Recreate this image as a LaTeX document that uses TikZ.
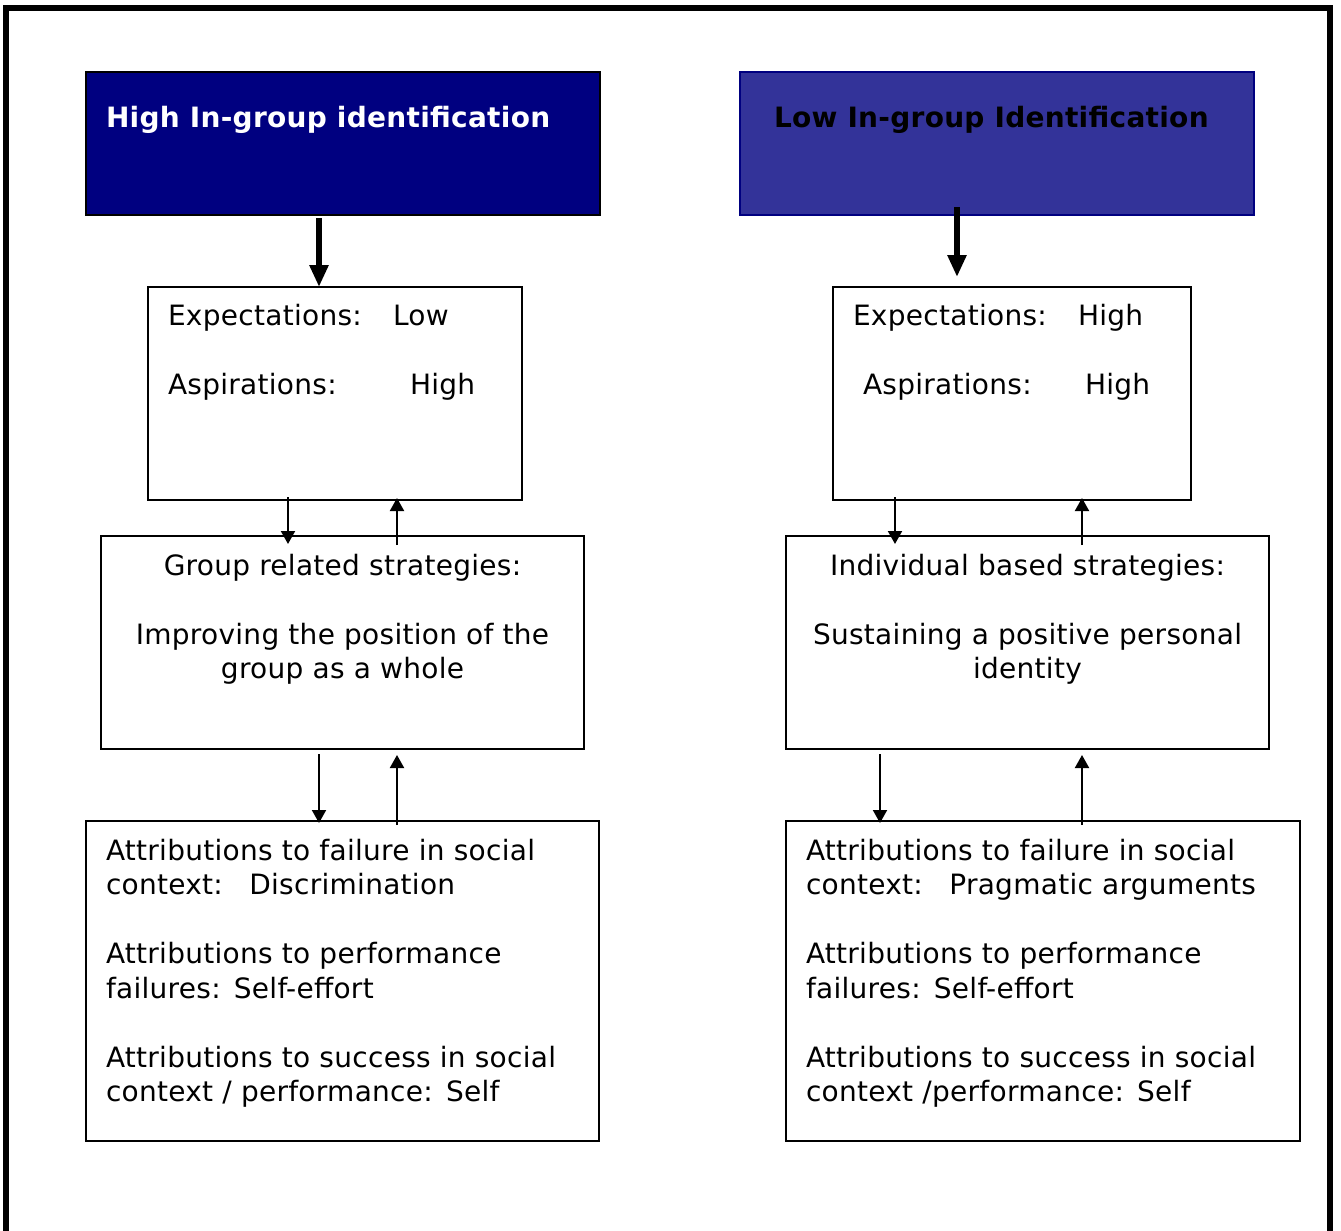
\documentclass[tikz,border=0pt]{standalone}
\usepackage{fontspec}
\setmainfont{DejaVu Sans}[LetterSpace=1.0]
\usetikzlibrary{arrows.meta,calc}
\definecolor{hinavy}{HTML}{000080}
\definecolor{lowblue}{HTML}{333399}
\newcommand{\colgap}{\hspace{6.6pt}}
\begin{document}
\begin{tikzpicture}[x=0.5pt,y=-0.5pt,
  every node/.style={inner sep=0pt,outer sep=0pt},
  txt/.style={font=\fontsize{14}{17.25}\selectfont},
  head/.style={font=\bfseries\fontsize{14}{17.25}\selectfont},
  panel/.style={draw=black,line width=1pt,fill=white,anchor=north west},
  bigarrow/.style={line width=3pt,-{Triangle[width=9pt,length=11pt]}},
  smallarrow/.style={line width=1pt,-{Triangle[width=7pt,length=6.5pt]}}]
\useasboundingbox (0,0) rectangle (1341,1231);
\fill[white] (0,0) rectangle (1341,1231);
% outer frame, open at the bottom
\draw[line width=3pt] (6,1231) -- (6,7.5) -- (1330,7.5) -- (1330,1231);

% header boxes
\node[panel,fill=hinavy,minimum width=257pt,minimum height=71.5pt] (hl) at (86,72) {};
\node[panel,draw=hinavy,fill=lowblue,minimum width=257pt,minimum height=71.5pt] (hr) at (740,72) {};
\node[head,text=white,anchor=base west] (hlt) at (106,127) {High In-group identification};
\node[head,text=black,anchor=base west] (hrt) at (774,127) {Low In-group Identification};

% expectations / aspirations
\node[panel,minimum width=187pt,minimum height=106.5pt] (el) at (148,287) {};
\node[panel,minimum width=179pt,minimum height=106.5pt] (er) at (833,287) {};
\node[txt,anchor=base west] (el1) at (168,325) {Expectations:};
\node[txt,anchor=base west] (el2) at (393,325) {Low};
\node[txt,anchor=base west] (el3) at (168,394) {Aspirations:};
\node[txt,anchor=base west] (el4) at (410,394) {High};
\node[txt,anchor=base west] (er1) at (853,325) {Expectations:};
\node[txt,anchor=base west] (er2) at (1078,325) {High};
\node[txt,anchor=base west] (er3) at (863,394) {Aspirations:};
\node[txt,anchor=base west] (er4) at (1085,394) {High};

% strategies
\node[panel,minimum width=241.5pt,minimum height=106.5pt] (sl) at (101,536) {};
\node[panel,minimum width=241.5pt,minimum height=106.5pt] (sr) at (786,536) {};
\node[txt,align=center,anchor=north] (slt) at (342.5,553)
  {\rule{0pt}{11pt}Group related strategies:\\[17.25pt]Improving the position of the\\group as a whole};
\node[txt,align=center,anchor=north] (srt) at (1027.5,553)
  {\rule{0pt}{11pt}Individual based strategies:\\[17.25pt]Sustaining a positive personal\\identity};

% attributions
\node[panel,minimum width=256.5pt,minimum height=160pt] (al) at (86,821) {};
\node[panel,minimum width=257pt,minimum height=160pt] (ar) at (786,821) {};
\node[txt,align=left,anchor=north west] (alt) at (106,838)
  {\rule{0pt}{11pt}Attributions to failure in social\\context:\colgap\colgap Discrimination\\[17.25pt]
   Attributions to performance\\failures:\colgap Self-effort\\[17.25pt]
   Attributions to success in social\\context / performance:\colgap Self};
\node[txt,align=left,anchor=north west] (art) at (806,838)
  {\rule{0pt}{11pt}Attributions to failure in social\\context:\colgap\colgap Pragmatic arguments\\[17.25pt]
   Attributions to performance\\failures:\colgap Self-effort\\[17.25pt]
   Attributions to success in social\\context /performance:\colgap Self};

% connectors
\draw[bigarrow] ($(hl.south west)+(233,3)$) -- ($(el.north west)+(171,0)$);
\draw[bigarrow] ($(hr.south west)+(217,-8)$) -- ($(er.north west)+(124,-10)$);

\draw[smallarrow] ($(el.south west)+(140,-3)$) -- ($(sl.north west)+(187,8)$);
\draw[smallarrow] ($(sl.north west)+(296,9)$) -- ($(el.south west)+(249,-2)$);
\draw[smallarrow] ($(er.south west)+(62,-3)$) -- ($(sr.north west)+(109,8)$);
\draw[smallarrow] ($(sr.north west)+(296,9)$) -- ($(er.south west)+(249,-2)$);

\draw[smallarrow] ($(sl.south west)+(218,5)$) -- ($(al.north west)+(233,2)$);
\draw[smallarrow] ($(al.north west)+(311,4)$) -- ($(sl.south west)+(296,6)$);
\draw[smallarrow] ($(sr.south west)+(94,5)$) -- ($(ar.north west)+(94,2)$);
\draw[smallarrow] ($(ar.north west)+(296,4)$) -- ($(sr.south west)+(296,6)$);
\end{tikzpicture}
\end{document}
